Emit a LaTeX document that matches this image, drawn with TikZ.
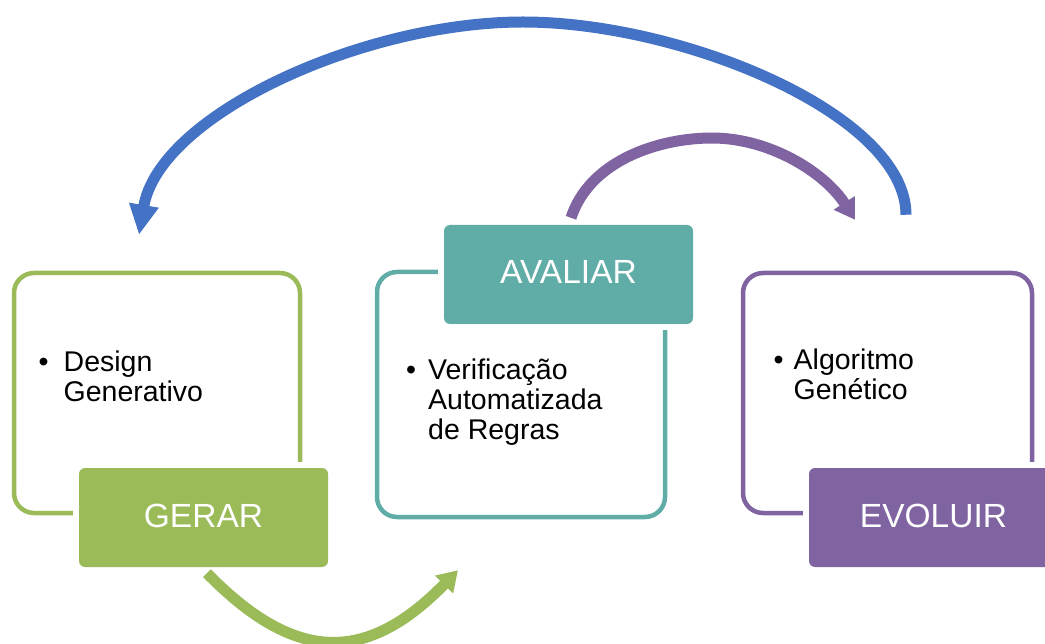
\documentclass[tikz,border=0pt]{standalone}
\usepackage{fontspec}
\setmainfont{Liberation Sans}
\usetikzlibrary{arrows.meta}
\definecolor{cgreen}{HTML}{9BBB59}
\definecolor{cteal}{HTML}{60ADA7}
\definecolor{cpurple}{HTML}{8064A2}
\definecolor{cblue}{HTML}{4472C4}
\begin{document}
\begin{tikzpicture}[x=1pt,y=-1pt,
  frame/.style={draw=#1, line width=4.5pt, rounded corners=20pt, inner sep=0pt},
  tag/.style={fill=#1, rounded corners=6pt, minimum width=249pt, minimum height=99pt,
    inner sep=0pt, text=white, font=\fontsize{33.5}{40}\selectfont,
    text height=24pt, text depth=5pt,
    preaction={draw=white, line width=12pt}},
  body/.style={anchor=north west, inner sep=0pt, align=left,
    font=\fontsize{28.5}{30}\selectfont},
  flow/.style={draw=#1, line width=11pt},
  tipbig/.style={-{Triangle[length=30pt,width=28pt]}},
  tipsmall/.style={-{Triangle[length=20pt,width=24pt]}}
]
\useasboundingbox (0,0) rectangle (1045,644);

% outlined panels
\node[frame=cgreen, minimum width=286pt, minimum height=240pt] (gframe) at (157,393) {};
\node[frame=cteal, minimum width=288pt, minimum height=245pt] (tframe) at (521,394.5) {};
\node[frame=cpurple, minimum width=289pt, minimum height=240pt] (pframe) at (887.5,393) {};

% bullet texts
\node[body] (gtxt) at (38.5,351) {\makebox[25pt][l]{\textbullet}Design\\\hspace*{25pt}Generativo};
\node[body] (ttxt) at (406,359) {\makebox[22pt][l]{\textbullet}Verificação\\\hspace*{22pt}Automatizada\\\hspace*{22pt}de Regras};
\node[body] (ptxt) at (773.5,349) {\makebox[20pt][l]{\textbullet}Algoritmo\\\hspace*{20pt}Genético};

% stage labels
\node[tag=cgreen] (gerar) at (203.5,517.5) {GERAR};
\node[tag=cteal] (avaliar) at (568.5,274.5) {AVALIAR};
\node[tag=cpurple] (evoluir) at (933.5,517.5) {EVOLUIR};

% connector end points
\coordinate (gs) at ([xshift=3.5pt,yshift=-6pt]gerar.south);
\coordinate (ge) at ([xshift=-63pt,yshift=-51pt]tframe.south);
\coordinate (ps) at ([xshift=2.5pt,yshift=7pt]avaliar.north);
\coordinate (ptop) at (712,138);
\coordinate (pe) at ([xshift=-32.5pt,yshift=51pt]pframe.north);
\coordinate (bs) at ([xshift=18.5pt,yshift=56pt]pframe.north);
\coordinate (btop) at (523,22);
\coordinate (be) at ([xshift=-18pt,yshift=36pt]gframe.north);

% cycle arrows
\draw[flow=cgreen, tipsmall] (gs) .. controls +(90,92) and +(-90,92) .. (ge);
\draw[flow=cpurple, tipsmall] (ps) .. controls +(19,-58) and +(-52,0) .. (ptop)
   .. controls +(58,0) and +(-30,-47) .. (pe);
\draw[flow=cblue, tipbig] (bs) .. controls +(0,-100) and +(160,0) .. (btop)
   .. controls +(-160,0) and +(20,-120) .. (be);
\end{tikzpicture}
\end{document}
